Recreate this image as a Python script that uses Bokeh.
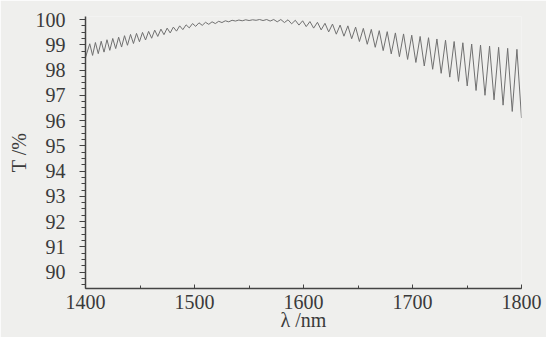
from bokeh.plotting import figure
from bokeh.models import Range1d, SingleIntervalTicker
from bokeh.embed import file_html
from bokeh.resources import INLINE

# Transmission extrema (wavelength nm, T %)
valley_nm = [1400.0, 1406.5, 1411.7, 1417.0, 1422.3, 1427.7, 1433.1, 1438.5, 1444.0, 1449.5,
             1455.1, 1460.7, 1466.3, 1472.0, 1477.7, 1483.5, 1489.3, 1495.2, 1501.1, 1507.1,
             1513.1, 1519.1, 1525.2, 1531.4, 1537.6, 1543.8, 1550.1, 1556.5, 1562.9, 1569.4,
             1575.9, 1582.5, 1589.1, 1595.8, 1602.5, 1609.3, 1616.2, 1623.1, 1630.1, 1637.1,
             1644.2, 1651.3, 1658.5, 1665.8, 1673.1, 1680.5, 1688.0, 1695.5, 1703.1, 1710.8,
             1718.5, 1726.3, 1734.2, 1742.2, 1750.2, 1758.3, 1766.5, 1774.8, 1783.1, 1791.5,
             1800.0]
valley_T = [98.50, 98.58, 98.65, 98.71, 98.78, 98.85, 98.91, 98.98, 99.05, 99.12,
            99.19, 99.26, 99.33, 99.40, 99.47, 99.54, 99.60, 99.67, 99.73, 99.77,
            99.81, 99.84, 99.88, 99.91, 99.94, 99.95, 99.96, 99.97, 99.96, 99.94,
            99.91, 99.88, 99.83, 99.78, 99.72, 99.66, 99.59, 99.51, 99.42, 99.34,
            99.24, 99.13, 99.02, 98.90, 98.77, 98.64, 98.53, 98.42, 98.30, 98.16,
            98.03, 97.87, 97.72, 97.55, 97.37, 97.19, 97.00, 96.82, 96.61, 96.36,
            96.10]
peak_nm = [1403.9, 1409.1, 1414.4, 1419.7, 1425.0, 1430.4, 1435.8, 1441.3, 1446.8, 1452.3,
           1457.9, 1463.5, 1469.2, 1474.9, 1480.6, 1486.4, 1492.3, 1498.2, 1504.1, 1510.1,
           1516.1, 1522.2, 1528.3, 1534.5, 1540.7, 1547.0, 1553.3, 1559.7, 1566.2, 1572.7,
           1579.2, 1585.8, 1592.5, 1599.2, 1605.9, 1612.8, 1619.7, 1626.6, 1633.6, 1640.7,
           1647.8, 1654.9, 1662.2, 1669.5, 1676.8, 1684.3, 1691.8, 1699.3, 1707.0, 1714.7,
           1722.4, 1730.3, 1738.2, 1746.2, 1754.3, 1762.4, 1770.7, 1779.0, 1787.3, 1795.8]
peak_T = [99.04, 99.09, 99.14, 99.20, 99.25, 99.30, 99.36, 99.41, 99.45, 99.49,
          99.53, 99.58, 99.62, 99.66, 99.70, 99.75, 99.79, 99.84, 99.87, 99.89,
          99.91, 99.93, 99.95, 99.97, 99.98, 99.99, 99.99, 100.00, 100.00, 100.00,
          100.00, 99.99, 99.97, 99.95, 99.92, 99.89, 99.85, 99.82, 99.78, 99.75,
          99.70, 99.65, 99.61, 99.56, 99.52, 99.47, 99.43, 99.38, 99.33, 99.28,
          99.23, 99.18, 99.13, 99.08, 99.03, 98.99, 98.95, 98.90, 98.86, 98.82]

x_tick_labels = ["1400", "1500", "1600", "1700", "1800"]
y_tick_labels = ["90", "91", "92", "93", "94", "95", "96", "97", "98", "99", "100"]

pts = sorted(zip(valley_nm + peak_nm, valley_T + peak_T))
xs = [a for a, b in pts]
ys = [b for a, b in pts]

BG = "#efefed"
TXT = "#3a3a3a"
AX = "#444444"
FONT = "Liberation Serif"

p = figure(width=546, height=337, output_backend="svg", toolbar_location=None,
           x_range=Range1d(1400, 1800), y_range=Range1d(89.35, 100.12),
           x_axis_label="λ /nm", y_axis_label="T /%",
           min_border_left=85, min_border_right=25, min_border_top=16, min_border_bottom=49)
p.background_fill_color = BG
p.border_fill_color = BG
p.outline_line_color = None
p.grid.visible = False

p.line(xs, ys, line_color="#707070", line_width=1)

xa = p.xaxis[0]
xa.ticker = SingleIntervalTicker(interval=100, num_minor_ticks=2)
xa.major_label_overrides = {int(t): t for t in x_tick_labels}
xa.axis_line_color = AX
xa.axis_line_width = 1.5
xa.major_tick_in = 4
xa.major_tick_out = 0
xa.minor_tick_in = 3
xa.minor_tick_out = 0
xa.major_tick_line_color = AX
xa.minor_tick_line_color = AX
xa.major_label_text_font = FONT
xa.major_label_text_font_size = "20px"
xa.major_label_text_color = TXT
xa.major_label_standoff = 6
xa.axis_label_text_font = FONT
xa.axis_label_text_font_size = "20px"
xa.axis_label_text_font_style = "normal"
xa.axis_label_text_color = TXT
xa.axis_label_standoff = -3

ya = p.yaxis[0]
ya.ticker = SingleIntervalTicker(interval=1, num_minor_ticks=4)
ya.major_label_overrides = {int(t): t for t in y_tick_labels}
ya.axis_line_color = AX
ya.axis_line_width = 1.5
ya.major_tick_in = 0
ya.major_tick_out = 6
ya.minor_tick_in = 0
ya.minor_tick_out = 4
ya.major_tick_line_color = AX
ya.minor_tick_line_color = AX
ya.major_label_text_font = FONT
ya.major_label_text_font_size = "20px"
ya.major_label_text_color = TXT
ya.major_label_standoff = 14
ya.axis_label_text_font = FONT
ya.axis_label_text_font_size = "20px"
ya.axis_label_text_font_style = "normal"
ya.axis_label_text_color = TXT
ya.axis_label_standoff = 3

open("out.html", "w").write(file_html(p, INLINE))
